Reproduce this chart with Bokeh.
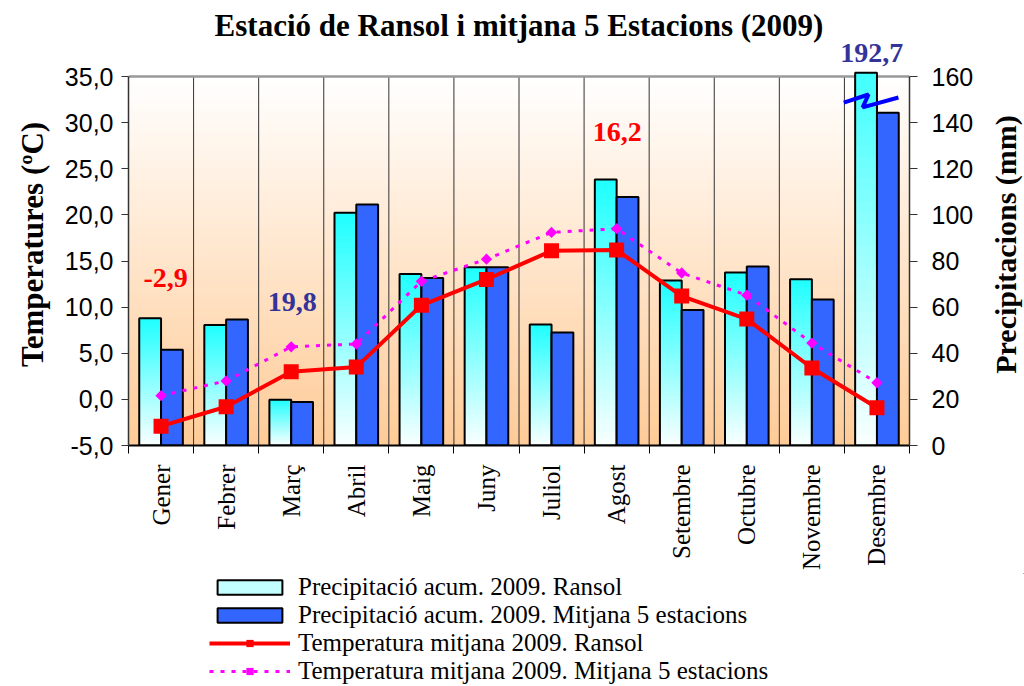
import numpy as np
from bokeh.plotting import figure
from bokeh.layouts import row, column
from bokeh.models import (Range1d, LinearAxis, FixedTicker,
                          Legend, LegendItem, Label)
from bokeh.embed import file_html
from bokeh.resources import INLINE

# ---------------- data ----------------
months = ["Gener", "Febrer", "Març", "Abril", "Maig", "Juny", "Juliol",
          "Agost", "Setembre", "Octubre", "Novembre", "Desembre"]
precip_ransol = [55.2, 52.3, 19.8, 100.9, 74.4, 77.3, 52.5, 115.3, 71.5, 75.0, 72.1, 192.7]
precip_mitjana = [41.5, 54.6, 18.9, 104.5, 72.6, 77.3, 49.0, 107.8, 58.7, 77.6, 63.3, 144.3]
temp_ransol = [-2.9, -0.8, 3.0, 3.5, 10.2, 13.0, 16.1, 16.2, 11.2, 8.7, 3.4, -0.9]
temp_mitjana = [0.4, 2.0, 5.7, 6.0, 12.8, 15.2, 18.1, 18.5, 13.7, 11.3, 6.1, 1.8]
temp_ticks = [-5, 0, 5, 10, 15, 20, 25, 30, 35]
precip_ticks = [0, 20, 40, 60, 80, 100, 120, 140, 160]
legend_labels = ["Precipitació acum. 2009. Ransol",
                 "Precipitació acum. 2009. Mitjana 5 estacions",
                 "Temperatura mitjana 2009. Ransol",
                 "Temperatura mitjana 2009. Mitjana 5 estacions"]

# ---------------- styles ----------------
CYAN_LEG = "#c4ffff"
BLUE = "#3366FF"
RED = "#FF0000"
MAGENTA = "#FF00FF"
SERIF = "Liberation Serif"
SANS = "Liberation Sans"

# ---------------- geometry ----------------
n = len(months)
xc = np.arange(n) + 0.5
bw = 0.335
off = bw / 2
t_lo, t_hi = temp_ticks[0], temp_ticks[-1]
p_lo, p_hi = precip_ticks[0], precip_ticks[-1]
ppu = 369 / (t_hi - t_lo)          # pixels per degree in the chart body
top_border = 43
frame_h = 402                      # frame reaches above the axis top (for labels)
y_top = t_lo + frame_h / ppu
ratio = (p_hi - p_lo) / (t_hi - t_lo)
p_top = p_lo + (y_top - t_lo) * ratio
bar_cap = p_hi * 1.01              # off-scale bar is cut just above the axis top

p = figure(frame_width=781, frame_height=frame_h,
           x_range=Range1d(0, n), y_range=Range1d(t_lo, y_top),
           output_backend="svg", toolbar_location=None,
           min_border_left=128, min_border_right=76,
           min_border_top=top_border, min_border_bottom=0,
           background_fill_color="white", border_fill_color="white",
           title="Estació de Ransol i mitjana 5 Estacions (2009)")
p.extra_y_ranges = {"precip": Range1d(p_lo, p_top)}

p.title.text_font = SERIF
p.title.text_font_size = "31px"
p.title.text_font_style = "bold"
p.title.align = "center"
p.title.offset = -14
p.title.standoff = 2
p.title.text_color = "black"

p.outline_line_color = None
p.xgrid.visible = False
p.ygrid.visible = False

# background gradient (white top -> peach bottom)
nb = 80
edges = np.linspace(t_lo, t_hi, nb + 1)
bg_cols = []
for k in range(nb):
    t = 1 - (k + 0.5) / nb  # 0 at top, 1 at bottom
    bg_cols.append("#%02x%02x%02x" % (255, int(round(255 - 52 * t)), int(round(255 - 104 * t))))
p.quad(left=0, right=n, bottom=edges[:-1], top=np.minimum(edges[1:] + 0.3, t_hi),
       fill_color=bg_cols, line_color=None, level="image")

# month separators and top border
sep = list(range(1, n))
p.segment(x0=sep, y0=t_lo, x1=sep, y1=t_hi, line_color="#333333", line_width=1, level="underlay")
p.segment(x0=[0], y0=[t_hi], x1=[n], y1=[t_hi], line_color="#999999", line_width=2.5, level="underlay")

# cyan gradient bars (Ransol precipitation)
ns = 40
seg_x, seg_b, seg_t, seg_c = [], [], [], []
for i, v in enumerate(precip_ransol):
    for k in range(ns):
        b = v * k / ns
        if b >= bar_cap:
            break
        t = (k + 0.5) / ns
        top = v * (k + 1) / ns + (v / ns * 0.5 if k < ns - 1 else 0)
        seg_x.append(xc[i] - off)
        seg_b.append(b)
        seg_t.append(min(top, bar_cap))
        seg_c.append("#%02x%02x%02x" % (int(round(250 - (250 - 30) * t)), 255, 255))
p.vbar(x=seg_x, bottom=seg_b, top=seg_t, width=bw, fill_color=seg_c,
       line_color=None, y_range_name="precip")
p.vbar(x=xc - off, bottom=0, top=np.minimum(precip_ransol, bar_cap), width=bw, fill_color=None,
       line_color="black", line_width=2, y_range_name="precip")

# blue bars
p.vbar(x=xc + off, bottom=0, top=precip_mitjana, width=bw, fill_color=BLUE,
       line_color="black", line_width=2, y_range_name="precip")

# break mark on the off-scale bar
imax = int(np.argmax(precip_ransol))
brk_dx = [-0.51, -0.13, -0.22, 0.33]
brk_dy = [148.7, 152.2, 146.6, 150.9]
p.line(x=[imax + 0.5 + d for d in brk_dx], y=brk_dy, color="#0000FF", line_width=4,
       y_range_name="precip")

# temperature lines
p.line(xc, temp_mitjana, color=MAGENTA, line_width=3, line_dash="4 7")
p.scatter(xc, temp_mitjana, marker="square", angle=np.pi / 4, size=8,
          fill_color=MAGENTA, line_color=None)
p.line(xc, temp_ransol, color=RED, line_width=4, line_join="round")
p.scatter(xc, temp_ransol, marker="square", size=15, fill_color=RED, line_color=None)

# ---------------- axes ----------------
xa = p.xaxis[0]
xa.ticker = FixedTicker(ticks=list(xc), minor_ticks=list(range(n + 1)))
xa.major_label_overrides = {float(x): m for x, m in zip(xc, months)}
xa.major_label_orientation = np.pi / 2
xa.major_label_text_font = SERIF
xa.major_label_text_font_size = "25px"
xa.major_label_text_color = "black"
xa.major_tick_line_color = None
xa.major_tick_out = 8
xa.major_tick_in = 0
xa.minor_tick_line_color = "black"
xa.minor_tick_out = 8
xa.minor_tick_in = 0
xa.major_label_standoff = 11
xa.axis_line_color = "black"
xa.axis_line_width = 2

def fmt(v):
    return ("%.1f" % v).replace(".", ",")

ya = p.yaxis[0]
ya.ticker = FixedTicker(ticks=temp_ticks)
ya.major_label_overrides = {int(t): fmt(t) for t in temp_ticks}
ya.bounds = (t_lo, t_hi)
ya.major_label_text_font = SANS
ya.major_label_text_font_size = "25px"
ya.major_label_text_color = "black"
ya.major_tick_out = 7
ya.major_tick_in = 0
ya.major_tick_line_color = "#333333"
ya.minor_tick_line_color = None
ya.axis_line_color = "#333333"
ya.axis_line_width = 1.5
ya.major_label_standoff = 8
ya.axis_label = "Temperatures (ºC)"
ya.axis_label_text_font = SERIF
ya.axis_label_text_font_size = "31px"
ya.axis_label_text_font_style = "bold"
ya.axis_label_text_color = "black"
ya.axis_label_standoff = 12

ra = LinearAxis(y_range_name="precip", ticker=FixedTicker(ticks=precip_ticks))
ra.bounds = (p_lo, p_hi)
ra.major_label_text_font = SANS
ra.major_label_text_font_size = "25px"
ra.major_label_text_color = "black"
ra.major_tick_out = 8
ra.major_tick_in = 0
ra.major_tick_line_color = "#333333"
ra.minor_tick_line_color = None
ra.axis_line_color = "#333333"
ra.axis_line_width = 1.5
ra.major_label_standoff = 14
p.add_layout(ra, "right")

# ---------------- value labels ----------------
lab_font = dict(text_font=SERIF, text_font_size="28px", text_font_style="bold",
                text_align="center", text_baseline="middle")
i_tmin = int(np.argmin(temp_ransol))
i_tmax = int(np.argmax(temp_ransol))
i_pmin = int(np.argmin(precip_ransol))
p.add_layout(Label(x=i_tmin + 0.57, y=13.2, text=fmt(temp_ransol[i_tmin]), text_color=RED, **lab_font))
p.add_layout(Label(x=i_tmax + 0.51, y=29.0, text=fmt(temp_ransol[i_tmax]), text_color=RED, **lab_font))
p.add_layout(Label(x=i_pmin + 0.515, y=10.6, text=fmt(precip_ransol[i_pmin]), text_color="#333399", **lab_font))
p.add_layout(Label(x=imax + 0.42, y=170.0, y_range_name="precip", text=fmt(precip_ransol[imax]),
                   text_color="#333399", **lab_font))

# ---------------- right-hand axis title (a left axis of a slim figure: reads bottom to top) ----------------
p2 = figure(frame_width=1, frame_height=frame_h, x_range=Range1d(0, 1),
            y_range=Range1d(p_lo, p_top),
            output_backend="svg", toolbar_location=None,
            min_border_left=0, min_border_right=0, min_border_top=top_border, min_border_bottom=0,
            x_axis_location=None, y_axis_location="left",
            background_fill_color="white", border_fill_color="white")
p2.outline_line_color = None
p2.grid.visible = False
a2 = p2.yaxis[0]
a2.ticker = FixedTicker(ticks=[])
a2.axis_line_color = None
a2.major_tick_line_color = None
a2.minor_tick_line_color = None
a2.major_tick_out = 0
a2.minor_tick_out = 0
a2.major_label_standoff = 0
a2.axis_label = "Precipitacions (mm)"
a2.axis_label_text_font = SERIF
a2.axis_label_text_font_size = "30px"
a2.axis_label_text_font_style = "bold"
a2.axis_label_text_color = "black"
a2.axis_label_standoff = 2

# ---------------- legend (own strip below the chart) ----------------
leg_h = 115
p3 = figure(width=1024, height=leg_h, x_range=Range1d(0, 1), y_range=Range1d(0, 1),
            output_backend="svg", toolbar_location=None, min_border=0,
            x_axis_location=None, y_axis_location=None,
            background_fill_color="white", border_fill_color="white")
p3.outline_line_color = None
p3.grid.visible = False
# legend proxies: one point each, placed outside the visible range of this strip
px, py = [5.0], [5.0]
r_cyan = p3.vbar(x=px, top=py, bottom=4.0, width=0.1, fill_color=CYAN_LEG, line_color="black", line_width=2)
r_blue = p3.vbar(x=px, top=py, bottom=4.0, width=0.1, fill_color=BLUE, line_color="black", line_width=2)
r_red_l = p3.line(x=[5.0, 6.0], y=[5.0, 5.0], color=RED, line_width=4)
r_red_m = p3.scatter(x=px, y=py, marker="square", size=15, fill_color=RED, line_color=None)
r_mag_l = p3.line(x=[5.0, 6.0], y=[5.0, 5.0], color=MAGENTA, line_width=3, line_dash="4 7")
r_mag_m = p3.scatter(x=px, y=py, marker="square", angle=np.pi / 4, size=9,
                     fill_color=MAGENTA, line_color=None)
legend = Legend(items=[
    LegendItem(label=legend_labels[0], renderers=[r_cyan]),
    LegendItem(label=legend_labels[1], renderers=[r_blue]),
    LegendItem(label=legend_labels[2], renderers=[r_red_l, r_red_m]),
    LegendItem(label=legend_labels[3], renderers=[r_mag_l, r_mag_m]),
], location=(209, 3), orientation="vertical",
    glyph_width=81, glyph_height=18, label_standoff=8,
    label_text_font=SERIF, label_text_font_size="25px", label_text_color="black",
    label_height=28, spacing=0, padding=0, margin=0,
    border_line_color=None, background_fill_alpha=0)
p3.add_layout(legend)

layout = column(row(p, p2), p3)
open("out.html", "w").write(file_html(layout, INLINE))
